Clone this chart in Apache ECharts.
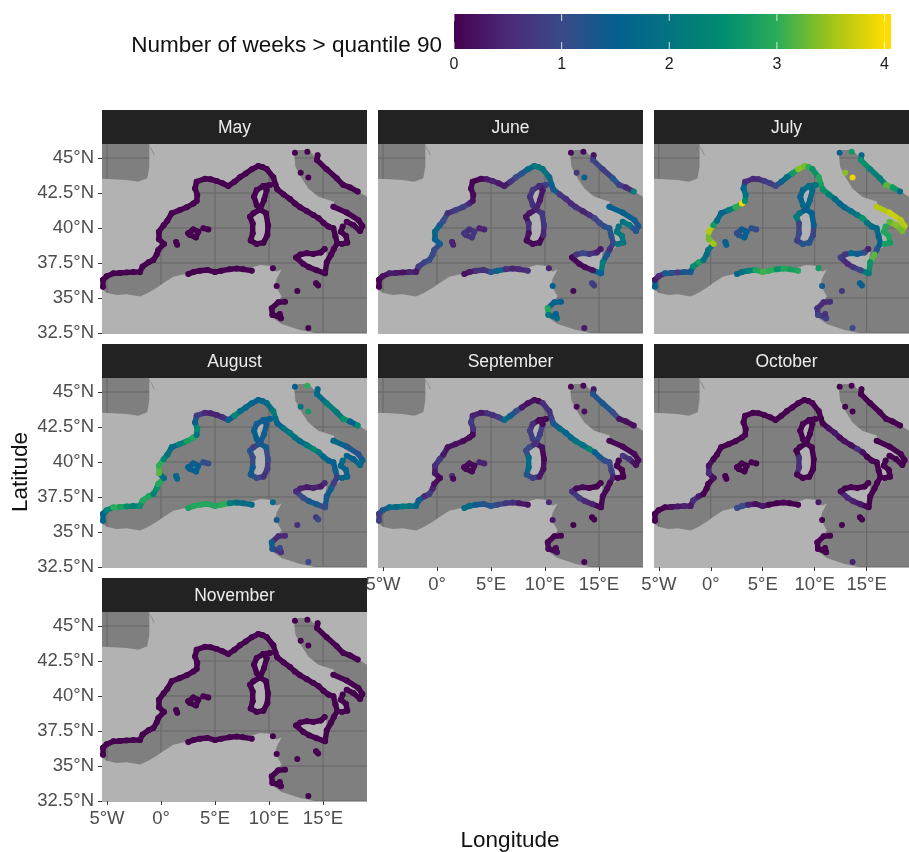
<!DOCTYPE html>
<html><head><meta charset="utf-8">
<script src="https://cdn.jsdelivr.net/npm/echarts@6/dist/echarts.min.js"></script>
<style>html,body{margin:0;padding:0;background:#fff;overflow:hidden}#c{width:909px;height:852px}</style>
</head><body><div id="c"></div>
<script>
const months = ["May","June","July","August","September","October","November"];
const lonTicks = [-5,0,5,10,15];
const lonLabels = ["5°W","0°","5°E","10°E","15°E"];
const latTicks = [32.5,35,37.5,40,42.5,45];
const latLabels = ["32.5°N","35°N","37.5°N","40°N","42.5°N","45°N"];
const legendTicks = [0,1,2,3,4];
const legendColors = ["#45004f","#4a2a78","#3a4a88","#05608f","#047380","#008c70","#2aac58","#a0c418","#ffdc00"];

const europeLand = [[-1.08,46],[-1.08,44.38],[-1.27,43.55],[-2.1,43.31],[-3.18,43.43],[-4.41,43.48],[-5.46,43.52],[-5.46,36.52],[-5.03,36.57],[-4.41,36.76],[-3.18,36.83],[-1.94,36.86],[-1.57,37.43],[-0.71,37.71],[-0.25,38.43],[0.28,38.86],[-0.19,39.19],[-0.19,39.74],[0.59,40.52],[0.99,41.05],[2.38,41.48],[3.3,41.93],[3.36,42.36],[3.15,42.83],[3.3,43.31],[4.07,43.52],[5.15,43.36],[6.23,43],[7.31,43.62],[8.4,44.19],[9.01,44.43],[9.78,44.21],[10.4,43.62],[10.77,42.76],[11.94,42.07],[12.87,41.48],[14.1,40.93],[15.03,40.38],[15.96,39.98],[16.33,38.9],[15.8,38.07],[16.42,38.55],[16.88,38.79],[17.38,38.95],[16.88,39.5],[16.73,39.98],[17.13,40.45],[17.81,40.33],[18.58,39.74],[18.67,40.21],[17.81,40.81],[15.96,41.52],[16.02,41.88],[14.57,42.24],[13.64,42.83],[13.02,43.55],[12.44,44.38],[12.35,45.1],[12.72,45.57],[13.64,45.57],[14.41,44.98],[15.34,44.26],[16.27,43.62],[17.19,43.07],[18.27,42.6],[19.07,42.24],[19.07,46]];
const africaLand = [[-5.46,32.5],[-5.46,35.62],[-5.03,35.38],[-4.1,35.21],[-3.18,35.26],[-1.94,35.1],[-1.17,35.38],[-0.4,35.74],[0.06,35.98],[1.14,36.52],[2.53,36.76],[4.23,36.95],[6.08,36.95],[7.93,37.05],[9.17,37.36],[10.09,37.31],[10.71,36.88],[11.17,37.05],[10.71,36.4],[10.56,35.93],[11.17,35.1],[10.86,34.79],[10.09,34.38],[10.15,33.67],[11.17,33.14],[12.87,32.71],[14.26,32.5]];
const corsicaLand = [[9.32,42.9],[9.72,42.71],[9.72,42],[9.29,41.4],[8.86,41.57],[8.64,42.24]];
const sardiniaLand = [[9.17,41.17],[9.78,41.1],[9.94,40.21],[9.78,39.14],[8.86,38.86],[8.4,39.14],[8.49,39.86],[8.3,40.81]];
const sicilyLand = [[12.5,37.9],[13.49,38.24],[15.34,38.31],[15.19,37.48],[15.34,36.64],[14.41,36.95],[13.18,37.43]];
const mallorcaLand = [[2.75,39.74],[3.24,39.81],[3.36,39.5],[3.06,39.26]];
const estuaryLine = [[-1.08,45.83],[-0.86,45.6],[-0.62,45.2]];

const coastLon = [
-5.37,-5.37,-5.03,-4.41,-3.8,-3.18,-2.56,-1.94,
-1.7,-1.15,-0.71,-0.4,-0.25,
0.28,-0.19,-0.19,
0.25,0.59,0.99,1.7,
2.38,3,3.3,3.36,3.15,
3.3,4.07,4.6,5.15,5.7,6.23,
6.8,7.31,7.85,8.4,9.01,9.4,9.78,
10.4,10.6,10.77,
11.35,11.94,12.4,12.87,13.5,14.1,14.6,15.03,15.5,15.96,
16.15,16.33,16,15.75,
15.34,15.19,
14.41,13.7,13.18,12.5,
12.9,13.49,14.1,14.8,15.15,
2.53,3,3.6,4.3,5,5.6,6.35,7,7.6,8.4,10.36,
10.09,9.48,8.86,8.61,8.86,9.17,9.54,9.78,9.48,
9.17,8.55,8.24,8.49,8.49,8.3,8.86,9.48,9.85,9.91,9.72,9.17,
15.96,17.19,18.27,18.64,18.43,17.81,17.19,
16.82,16.64,17.13,17.25,16.73,
14.5,14.45,15.34,16.27,16.88,17.5,18.21,
12.4,13.55,12.93,13.64,
1.4,1.5,
2.53,2.99,3.46,3.24,2.69,2.53,
3.92,4.38,
10.71,12.62,14.35,14.55,
11.48,10.86,10.25,10.31,10.8,11.1,11,
13.64];
const coastLat = [
35.8,36.3,36.55,36.76,36.79,36.83,36.85,36.86,
37.25,37.55,37.71,38.1,38.43,
38.86,39.19,39.74,
40.2,40.52,41.05,41.27,
41.48,41.75,41.93,42.36,42.83,
43.31,43.52,43.48,43.36,43.2,43,
43.3,43.62,43.9,44.19,44.43,44.35,44.21,
43.62,43.1,42.76,
42.4,42.07,41.75,41.48,41.2,40.93,40.7,40.38,40.1,39.98,
39.4,38.9,38.5,38.1,
37.55,36.76,
36.98,37.2,37.43,37.9,
38.1,38.2,38.15,38.25,38.5,
36.72,36.85,36.95,37,36.85,36.95,37.05,37.1,37.05,36.95,37.12,
43.07,43,42.71,42.24,41.64,41.33,42,42.71,43,
41.33,41.05,40.81,40.33,39.62,39.1,38.86,38.95,39.5,40.2,41.05,41.33,
41.52,41.1,40.57,40.14,39.79,40.21,40.45,
40.1,39.74,39.43,38.95,38.86,
45.2,44.85,44.19,43.55,43.07,42.9,42.6,
45.38,45.45,43.95,43.6,
39,38.8,
39.62,39.9,39.74,39.33,39.5,39.62,
39.98,39.9,
35.86,35.5,36.05,35.9,
34.74,34.69,34.26,33.79,33.7,33.55,33.85,
32.86];
const coastPath = [
0,0,0,0,0,0,0,0,0,0,0,0,0,0,0,0,0,0,0,0,0,0,0,0,0,0,0,0,0,0,0,0,0,
0,0,0,0,0,0,0,0,0,0,0,0,0,0,0,0,0,0,0,0,0,0,0,0,0,0,0,0,0,0,0,0,0,
1,1,1,1,1,1,1,1,1,1,2,
3,3,3,3,3,3,3,3,3,
4,4,4,4,4,4,4,4,4,4,4,4,
5,5,5,5,5,5,5,
6,6,6,6,6,
7,7,7,7,7,7,7,
8,9,10,11,
12,12,
13,13,13,13,13,13,
14,14,
15,16,17,17,
18,18,18,18,18,18,18,
19];

const weeksMay = [
0,0,0,0,0,0,0,0,0,0,0,0,0,0,0,0,0,0,0,0,0,0,0,0,0,0,0,0,0,0,0,0,0,
0,0,0,0,0,0,0,0,0,0,0,0,0,0,0,0,0,0,0,0,0,0,0,0,0,0,0,0,0,0,0,0,0,
0,0,0,0,0,0,0,0,0,0,0,
0,0,0,0,0,0,0,0,0,
0,0,0,0,0,0,0,0,0,0,0,0,
0,0,0,0,0,0,0,
0,0,0,0,0,
0,0,0,0,0,0,0,
0,0,0,0,
0,0,
0,0,0,0,0,0,
0,0,
0,0,0,0,
0,0,0,0,0,0,0,
0];
const weeksJune = [
0,0,0.2,0.3,0.3,0.2,0.4,0.3,
0.8,0.9,1,1,1,
1.4,1.6,1.7,
1.3,1,0.6,0.8,
0.8,0.5,0.2,0.1,0.1,
0,0.1,0.3,0.4,0.3,0.3,
0.7,1,1.2,1.7,2,2.1,2,
1.7,1.5,1.3,
0.7,0.6,0.5,0.6,0.4,0.6,0.9,1,1.1,1.2,
1.1,0.9,0.6,1.3,
2.2,1.5,
0.2,0.1,0.1,0.1,
0.7,1,0.7,0.4,0.3,
0.2,0.3,0.6,0.6,1.2,1.6,0.6,0.4,0.5,0.6,0.4,
0.8,0.7,0.7,0.6,0.6,0.4,0.3,0.3,0.5,
0.3,0.3,0.2,0.6,0.2,0.1,0.1,0.1,0.5,0.7,0.7,0.4,
1.5,1.5,1.4,1.3,1.2,2.1,2,
2,2.1,2.2,2,2,
0.2,0.9,0.8,1.2,0.8,0.5,2.3,
0.1,0.1,0.7,1.5,
0.4,0.4,
0.7,0.6,0.7,0.7,0.6,0.7,
0.4,0.4,
1.5,0.1,0.8,0.8,
1.5,1.6,2.9,2.1,1.6,1.9,1.5,
0.3];
const weeksJuly = [
1.5,0.3,0.5,1.3,1.2,0.8,1.3,1.4,
2.5,2.8,2,1.8,2,
3.5,3.3,3.6,
2.7,1.8,1.6,2.2,
3,3.9,2.5,2,1.6,
0.6,0.5,0.6,0.8,0.8,1,
1.6,1.9,2.7,3.4,3.3,3,2.6,
2.9,2.8,2.6,
2.2,1.8,1.6,1.7,1.9,2.1,2.6,2,1.8,1.7,
1.6,1.5,1.2,3.2,
2.6,2.2,
0.9,0.7,0.5,0.8,
0.7,1.7,1.4,1,0.4,
1.6,2,2.3,2.9,3.1,3,2.6,2.9,2.8,2.9,2.7,
2,1.8,1.7,1.6,1.7,1.6,1.7,1.8,1.9,
1.4,2,2.1,0.9,1,0.8,1.2,1.2,0.9,1.5,1.5,1.5,
3.6,3.7,3.6,3.6,3.3,3.4,3.2,
2.9,2.9,2.9,2.7,2.8,
1.7,2.6,2.3,2.2,3.2,2.7,1.7,
1.5,2.7,3.4,3.9,
1.5,1.5,
1.1,1.4,1.5,1.5,1.2,1.1,
1.1,1.1,
1.4,0.7,1.5,1.4,
0.6,0.5,0.6,0.9,0.8,0.8,0.6,
1];
const weeksAugust = [
1.7,1.6,2.4,3,2.8,2.5,2.3,2.6,
2.9,2.9,2.3,2.6,2.9,
1.9,3.2,3,
2.4,2,1.8,2.3,
2.8,2.9,2,2.5,1.4,
0.8,0.5,0.4,0.4,0.6,1.5,
2.4,1.8,1.7,1.6,1.5,1.6,1.8,
2.2,1.8,1.6,
2,2.1,1.9,1.8,2.1,2.4,2,1.7,1.6,1.5,
1.4,0.8,0.8,1.4,
1.3,1,
1.4,1.3,1,0.5,
0.4,0.3,0.4,0.3,0.5,
2.8,2.9,2.9,2.9,2.9,3,2.2,1.9,1.9,1.8,1.7,
1.5,1.5,1.4,1.5,1.5,1.4,1.4,1.3,1.4,
1.2,0.8,1.2,1,1.4,1.3,1,0.6,0.8,1,1.4,1.3,
1.6,1.3,1.2,1.6,1.7,1.5,1.6,
1.7,1.6,1.6,1.6,1.7,
1.6,1.8,2.2,2.1,2.6,1.5,2.5,
1.5,3,2,2.7,
1.6,1.7,
1.5,1.4,1.5,1.5,1.4,1.5,
1.1,1,
1.3,0.6,0.7,0.9,
0.5,0.5,1.4,1.3,0.7,0.6,1,
1];
const weeksSeptember = [
0.8,0.8,1.3,1.7,1.8,2.1,2,1.7,
1.4,0.5,0.8,0.4,0.2,
0.1,0.3,0.6,
0.7,0.3,0.2,0.2,
0.1,0.1,0.1,0.6,0.8,
0.4,0.3,0.6,0.6,0.8,1.8,
1.4,1,0.3,0.2,0.2,0.1,0.6,
0.6,0.9,1.3,
1.8,1.6,1.7,2,1.9,2.4,1.5,1.3,1.1,1,
0.8,0.4,0.1,0.1,
0.1,0.1,
0.4,0.5,0.8,0.5,
0.1,0.1,0,0,0,
1.8,1.7,1.4,1.2,1.2,0.9,0.7,0.6,0.3,0.2,0.5,
0.1,0.2,0.6,0.8,0.8,0.9,0.8,0.1,0.1,
0.6,1,1,1.8,1.8,1.2,0.8,0.3,0.2,0.1,0.2,0.6,
0.1,0.1,0.1,0.1,0.2,0.6,0.7,
0,0,0,0,0,
0.3,1.2,1.3,1,0.2,0.2,0.2,
0.1,0.1,0.1,0.2,
0.5,0.1,
0.1,0.1,0.1,0.1,0.1,0.1,
0.4,0.4,
0.3,0,0,0,
0,0,0.1,0.1,0.1,0.2,0.1,
0.1];
const weeksOctober = [
0,0,0,0,0.2,0.3,0.4,0.3,
0.6,0.3,0,0,0,
0.2,0.5,0.2,
0,0,0,0,
0,0,0,0,0,
0,0,0,0,0,0,
0,0,0,0,0,0,0,
0,0,0,
0.2,0.3,0.1,0.2,0.2,0.6,0.2,0,0,0,
0,0,0,0,
0,0,
0.3,0.4,0.5,0.1,
0,0,0,0,0,
1,1,0.4,0.2,0.3,0,0,0.1,0,0,0.3,
0,0,0,0,0,0,0,0,0,
0,0,0,0.6,0.6,0,0,0,0,0,0,0,
0,0,0,0,0,0,0,
0,0,0,0,0,
0,0,0,0,0,0,0,
0,0,0,0,
0,0,
0,0,0,0,0,0,
0,0,
0,0,0,0,
0,0,0,0,0,0,0,
0.4];
const weeksNovember = weeksMay.slice();
const monthValues = [weeksMay,weeksJune,weeksJuly,weeksAugust,weeksSeptember,weeksOctober,weeksNovember];

const FONT = "Liberation Sans";
const panelW = 265, panelH = 189, stripH = 34;
const colX = [102,378,654];
const rowY = [144,378,612];
const lonMin = -5.46, lonMax = 19.07, latMin = 32.5, latMax = 46;
const landPolys = [europeLand,africaLand,corsicaLand,sardiniaLand,sicilyLand,mallorcaLand];

const chart = echarts.init(document.getElementById('c'));
const grids=[],xAxes=[],yAxes=[],series=[],graphics=[],coastIdx=[];

months.forEach((m,i)=>{
  const col=i%3,row=Math.floor(i/3);
  const left=colX[col],top=rowY[row];
  const showX = m==="September"||m==="October"||m==="November";
  const showY = col===0;
  grids.push({left,top,width:panelW,height:panelH,backgroundColor:'#7f7f7f',show:true,borderWidth:0});
  xAxes.push({type:'value',gridIndex:i,min:lonMin,max:lonMax,position:'bottom',
    axisLine:{show:false,onZero:false},
    axisTick:{show:showX,length:4,lineStyle:{color:'#333'},customValues:lonTicks},
    axisLabel:{show:showX,customValues:lonTicks,margin:8,color:'#4d4d4d',fontSize:18.5,fontFamily:FONT,
      formatter:v=>lonLabels[lonTicks.indexOf(v)]},
    splitLine:{show:false}});
  yAxes.push({type:'value',gridIndex:i,min:latMin,max:latMax,position:'left',
    axisLine:{show:false,onZero:false},
    axisTick:{show:showY,length:4,lineStyle:{color:'#333'},customValues:latTicks},
    axisLabel:{show:showY,customValues:latTicks,margin:8,color:'#4d4d4d',fontSize:18.5,fontFamily:FONT,
      formatter:v=>latLabels[latTicks.indexOf(v)]},
    splitLine:{show:false}});
  series.push({type:'custom',xAxisIndex:i,yAxisIndex:i,z:1,silent:true,
    data:lonTicks.map(v=>[v,0]).concat(latTicks.map(v=>[v,1])),
    renderItem:(p,api)=>{
      const v=api.value(0),h=api.value(1);
      const a=h?api.coord([lonMin,v]):api.coord([v,latMin]);
      const b=h?api.coord([lonMax,v]):api.coord([v,latMax]);
      return {type:'line',shape:{x1:a[0],y1:a[1],x2:b[0],y2:b[1]},style:{stroke:'#666666',lineWidth:1}};
    },encode:{x:0}});
  series.push({type:'custom',xAxisIndex:i,yAxisIndex:i,z:2,silent:true,
    data:landPolys.map((_,k)=>[k]),
    renderItem:(p,api)=>({type:'polygon',shape:{points:landPolys[api.value(0)].map(c=>api.coord(c))},style:{fill:'#b2b2b2'}}),
    encode:{x:0}});
  series.push({type:'line',xAxisIndex:i,yAxisIndex:i,z:2,silent:true,symbol:'none',data:estuaryLine,lineStyle:{color:'#8c8c8c',width:1}});
  coastIdx.push(series.length);
  const vals=monthValues[i];
  series.push({type:'custom',xAxisIndex:i,yAxisIndex:i,z:3,silent:true,
    data:coastLon.map((lon,k)=>{
      const linked=coastPath[k+1]===coastPath[k];
      return [lon,coastLat[k],vals[k],linked?coastLon[k+1]:lon,linked?coastLat[k+1]:coastLat[k]];
    }),
    dimensions:['lon','lat','weeks','nextLon','nextLat'],
    encode:{x:0,y:1},
    renderItem:(p,api)=>{
      const a=api.coord([api.value(0),api.value(1)]);
      const b=api.coord([api.value(3),api.value(4)]);
      const c=api.visual('color');
      return {type:'group',children:[
        {type:'line',shape:{x1:a[0],y1:a[1],x2:b[0],y2:b[1]},style:{stroke:c,lineWidth:5.4,lineCap:'round'}},
        {type:'circle',shape:{cx:a[0],cy:a[1],r:3},style:{fill:c}}
      ]};
    }});
  graphics.push({type:'rect',left:left,top:top-stripH,shape:{width:panelW,height:stripH},style:{fill:'#222222'},z:5});
  graphics.push({type:'text',x:left+panelW/2,y:top-stripH/2+1,style:{text:m,fill:'#ededed',font:'17.5px "'+FONT+'"',textAlign:'center',textVerticalAlign:'middle'},z:6});
});

const li=months.length;
grids.push({left:454,top:14,width:437,height:35,show:false});
xAxes.push({type:'value',gridIndex:li,min:0,max:4.06,
  axisLine:{show:false},axisTick:{show:false},
  axisLabel:{customValues:legendTicks,margin:8,color:'#1a1a1a',fontSize:16,fontFamily:FONT},splitLine:{show:false}});
yAxes.push({type:'value',gridIndex:li,min:0,max:1,show:false});
series.push({type:'custom',xAxisIndex:li,yAxisIndex:li,z:3,silent:true,data:[[0,0]],encode:{x:0},
  renderItem:(p,api)=>{
    const a=api.coord([0,1]),b=api.coord([4,0]),e=api.coord([4.06,0]);
    const ch=[{type:'rect',shape:{x:b[0],y:a[1],width:e[0]-b[0],height:b[1]-a[1]},style:{fill:legendColors[legendColors.length-1]}},
      {type:'rect',shape:{x:a[0],y:a[1],width:b[0]-a[0],height:b[1]-a[1]},
      style:{fill:new echarts.graphic.LinearGradient(0,0,1,0,legendColors.map((c,i)=>({offset:i/(legendColors.length-1),color:c})))}}];
    legendTicks.forEach(t=>{
      const x=api.coord([t,0])[0];
      ch.push({type:'line',shape:{x1:x,y1:a[1],x2:x,y2:a[1]+7},style:{stroke:'#fff',lineWidth:1,opacity:.8}});
      ch.push({type:'line',shape:{x1:x,y1:b[1]-7,x2:x,y2:b[1]},style:{stroke:'#fff',lineWidth:1,opacity:.8}});
    });
    return {type:'group',children:ch};
  }});

graphics.push({type:'text',x:442,y:46,style:{text:'Number of weeks > quantile 90',fill:'#111',font:'22.5px "'+FONT+'"',textAlign:'right',textVerticalAlign:'middle'},z:6});
graphics.push({type:'text',x:510,y:841,style:{text:'Longitude',fill:'#111',font:'22.5px "'+FONT+'"',textAlign:'center',textVerticalAlign:'middle'},z:6});
graphics.push({type:'text',x:21,y:472,rotation:Math.PI/2,style:{text:'Latitude',fill:'#111',font:'22.5px "'+FONT+'"',textAlign:'center',textVerticalAlign:'middle'},z:6});

chart.setOption({
  animation:false,backgroundColor:'#ffffff',
  grid:grids,xAxis:xAxes,yAxis:yAxes,series,graphic:graphics,
  visualMap:{show:false,type:'continuous',min:0,max:4,dimension:2,seriesIndex:coastIdx,inRange:{color:legendColors}}
});
</script></body></html>
